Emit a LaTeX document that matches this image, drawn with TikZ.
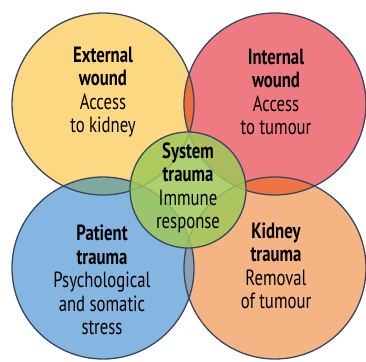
\documentclass[tikz,border=0pt]{standalone}
\usepackage{fontspec}
\setmainfont{PT Sans}[FakeStretch=0.76]
\definecolor{cyel}{HTML}{FDD882}
\definecolor{cred}{HTML}{EF7B82}
\definecolor{cblu}{HTML}{85B5E1}
\definecolor{cora}{HTML}{F4B483}
\definecolor{cgrn}{HTML}{A0C858}
\definecolor{cyr}{HTML}{EC6F3E}
\definecolor{cyb}{HTML}{7FA89E}
\definecolor{cro}{HTML}{EE7444}
\definecolor{cbo}{HTML}{8A9FB5}
\definecolor{cline}{HTML}{3A4660}
\tikzset{
  ring/.style={draw=cline, line width=1.3pt},
  lbl/.style={align=center, text=black, font=\fontsize{22}{23.5}\selectfont},
}
\begin{document}
\begin{tikzpicture}[x=1pt,y=-1pt]
\useasboundingbox (0,0) rectangle (366,361);
\def\R{91}
\coordinate (Y) at (103,104);
\coordinate (Rd) at (275,104);
\coordinate (B) at (103,268);
\coordinate (O) at (275,268);
\coordinate (G) at (188,190);
% fills
\fill[cyel] (Y) circle (\R);
\fill[cred] (Rd) circle (\R);
\fill[cblu] (B) circle (\R);
\fill[cora] (O) circle (\R);
% overlaps
\begin{scope}\clip (Y) circle (\R); \fill[cyr] (Rd) circle (\R); \end{scope}
\begin{scope}\clip (Y) circle (\R); \fill[cyb] (B) circle (\R); \end{scope}
\begin{scope}\clip (O) circle (\R); \fill[cro] (Rd) circle (\R); \end{scope}
\begin{scope}\clip (O) circle (\R); \fill[cbo] (B) circle (\R); \end{scope}
% outlines
\draw[ring] (Y) circle (\R);
\draw[ring] (Rd) circle (\R);
\draw[ring] (B) circle (\R);
\draw[ring] (O) circle (\R);
% centre
\fill[cgrn, fill opacity=0.85] (G) circle (58);
\draw[ring] (G) circle (58);
% texts
\node[lbl] (ty) at (103,92) {\textbf{External}\\\textbf{wound}\\Access\\to kidney};
\node[lbl] (tr) at (276,92) {\textbf{Internal}\\\textbf{wound}\\Access\\to tumour};
\node[lbl] (tb) at (102,280) {\textbf{Patient}\\\textbf{trauma}\\Psychological\\and somatic\\stress};
\node[lbl] (to) at (276,266) {\textbf{Kidney}\\\textbf{trauma}\\Removal\\of tumour};
\node[lbl] (tg) at (188,188) {\textbf{System}\\\textbf{trauma}\\Immune\\response};
\end{tikzpicture}
\end{document}
